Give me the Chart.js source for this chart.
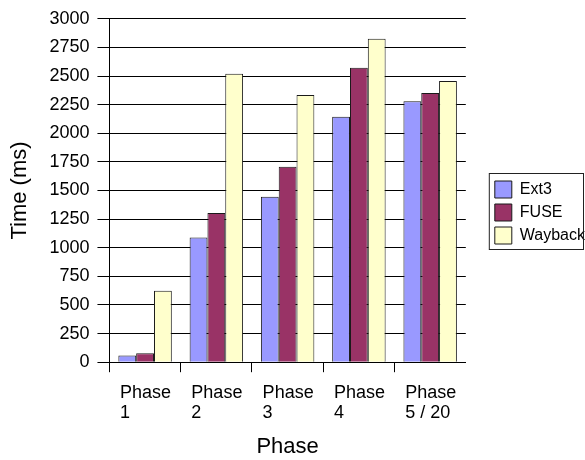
<!DOCTYPE html>
<html>
<head>
<meta charset="utf-8">
<script src="https://cdn.jsdelivr.net/npm/chart.js@4/dist/chart.umd.min.js"></script>
<style>
  html, body { margin: 0; padding: 0; background: #ffffff; }
  #wrap { width: 585px; height: 460px; }
</style>
</head>
<body>
<div id="wrap"><canvas id="chart" width="585" height="460"></canvas></div>
<script>
// Benchmark timings per phase (milliseconds)
const phases = [["Phase", "1"], ["Phase", "2"], ["Phase", "3"], ["Phase", "4"], ["Phase", "5 / 20"]];
const ext3 = [58, 1090, 1445, 2145, 2280];
const fuse = [78, 1303, 1708, 2572, 2352];
const wayback = [624, 2520, 2335, 2825, 2456];
const yTicks = [0, 250, 500, 750, 1000, 1250, 1500, 1750, 2000, 2250, 2500, 2750, 3000];

const FONT = "'Liberation Sans', Arial, sans-serif";

// Legend placement and its outline frame
const legendFrame = {
  id: 'legendFrame',
  afterLayout(chart) {
    const lg = chart.legend;
    if (!lg) return;
    const w = lg.right - lg.left;
    const h = lg.bottom - lg.top;
    lg.left = chart.chartArea.right + 23;
    lg.right = lg.left + w;
    lg.top = 175;
    lg.bottom = lg.top + h;
  },
  afterDraw(chart) {
    const lg = chart.legend;
    if (!lg) return;
    const ctx = chart.ctx;
    const n = chart.data.datasets.length;
    const pad = lg.options.labels.padding;
    const box = lg.options.labels.boxHeight;
    const top = lg.top - 2;
    const bottom = lg.top + pad + n * (box + pad) - pad + 5;
    ctx.save();
    ctx.strokeStyle = '#222222';
    ctx.lineWidth = 1;
    ctx.strokeRect(lg.left + 0.5, top + 0.5, 583 - lg.left, bottom - top);
    ctx.restore();
  }
};

new Chart(document.getElementById('chart'), {
  type: 'bar',
  data: {
    labels: phases,
    datasets: [
      { label: 'Ext3', data: ext3, backgroundColor: '#9999FF', borderColor: '#1a1a1a', borderWidth: 1 },
      { label: 'FUSE', data: fuse, backgroundColor: '#993366', borderColor: '#1a1a1a', borderWidth: 1 },
      { label: 'Wayback', data: wayback, backgroundColor: '#FFFFCC', borderColor: '#1a1a1a', borderWidth: 1 }
    ]
  },
  options: {
    responsive: false,
    animation: false,
    devicePixelRatio: 1,
    layout: { padding: { top: 7, right: 13, bottom: 0, left: 0 } },
    datasets: { bar: { categoryPercentage: 0.75, barPercentage: 1.0 } },
    plugins: {
      legend: {
        position: 'right',
        align: 'start',
        labels: {
          font: { family: FONT, size: 16 },
          color: '#000000',
          boxWidth: 17,
          boxHeight: 17,
          padding: 6
        }
      },
      tooltip: { enabled: false }
    },
    scales: {
      x: {
        grid: {
          offset: true,
          drawOnChartArea: false,
          drawTicks: true,
          tickLength: 10,
          // tick marks at the left edge of each category only
          color: (c) => (c.tick ? '#000000' : 'rgba(0,0,0,0)'),
          lineWidth: 1
        },
        border: { color: '#000000', width: 1 },
        ticks: {
          align: 'start',
          labelOffset: -25,
          padding: 10,
          maxRotation: 0,
          autoSkip: false,
          color: '#000000',
          font: { family: FONT, size: 18, lineHeight: 1.15 }
        },
        title: {
          display: true,
          text: 'Phase',
          color: '#000000',
          font: { family: FONT, size: 22 },
          padding: { top: 0, bottom: 0 }
        }
      },
      y: {
        min: 0,
        max: 3000,
        afterBuildTicks: (scale) => { scale.ticks = yTicks.map(v => ({ value: v })); },
        grid: { color: '#000000', lineWidth: 1, tickLength: 12 },
        border: { color: '#000000', width: 1 },
        ticks: {
          padding: 8,
          color: '#000000',
          font: { family: FONT, size: 18 },
          callback: (v) => String(v)
        },
        title: {
          display: true,
          text: 'Time (ms)',
          color: '#000000',
          font: { family: FONT, size: 22 },
          padding: { top: 7, bottom: 8 }
        }
      }
    }
  },
  plugins: [legendFrame]
});
</script>
</body>
</html>
